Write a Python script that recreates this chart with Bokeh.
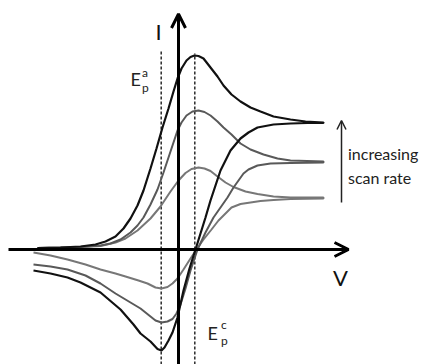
from bokeh.plotting import figure
from bokeh.models import Range1d, Arrow, OpenHead
from bokeh.core.properties import value
from bokeh.embed import file_html
from bokeh.resources import INLINE

# ---- data (potential E, current I, arbitrary units; origin at axes crossing) ----
# fastest scan rate (black)
E_fast = [-141, -118, -98, -83, -73, -63, -55, -48, -41, -35, -28, -22, -16, -10, -5, -1, 3, 8, 12, 16, 20, 25, 32, 39, 45, 53, 62, 72, 82, 95, 112, 127, 145,
          145, 129, 112, 95, 79, 70, 62, 52, 42, 32, 27, 22, 17, 11, 5, -1, -6, -10, -14, -17, -21, -28, -38, -45, -58, -78, -98, -111, -128, -145]
I_fast = [1.5, 2, 3, 5, 8, 13, 21, 31, 44, 59, 81, 101, 122, 141, 158, 171, 181, 189, 192.5, 194, 193.5, 191, 182, 173, 164, 155, 148, 142, 138, 133, 130, 128, 127,
          126.5, 126.5, 126, 125, 122, 117, 111, 99, 79, 49, 32, 16, 0, -19, -41, -68, -83, -91, -98, -101, -99.5, -92, -84, -75, -60, -43, -33, -28, -24, -21]

# medium scan rate (dark grey)
E_mid = [-141, -118, -98, -78, -68, -58, -48, -41, -35, -28, -21, -15, -8, -1, 3, 8, 14, 20, 26, 32, 39, 45, 53, 62, 72, 85, 99, 112, 145,
         145, 112, 92, 79, 70, 65, 60, 55, 49, 42, 35, 27, 19, 12, 7, 2, -2, -6, -11, -17, -23, -28, -38, -48, -63, -78, -93, -111, -128, -145]
I_mid = [1.5, 2, 2.5, 4, 6, 10, 17, 24, 32, 45, 60, 77, 98, 119, 127, 134, 138, 139, 137.5, 134, 128, 122, 115, 106, 100, 95, 91, 89, 88,
         87, 86.5, 86, 84, 80, 76, 69, 62, 52, 42, 32, 17, 0, -21, -39, -55, -64, -69.5, -72, -73, -71, -67, -59, -53, -44, -34, -26, -20, -17, -15]

# slowest scan rate (light grey)
E_slow = [-141, -108, -78, -63, -53, -41, -28, -18, -8, 0, 7, 13, 20, 26, 32, 39, 47, 55, 67, 79, 95, 112, 145,
          145, 112, 95, 82, 72, 62, 53, 46, 40, 33, 25, 18, 12, 5, -1, -6, -11, -17, -23, -31, -40, -53, -63, -78, -93, -111, -128, -145]
I_slow = [1.5, 2, 3.5, 7, 11, 19, 31, 43, 58, 69, 76.5, 80.5, 82, 81, 78.5, 73, 67, 62.5, 58, 55.5, 53, 52, 52,
          51, 50.5, 49.5, 48.5, 47, 45.5, 42, 35, 29, 20, 10, 0, -9, -20, -29, -34, -37.5, -39, -38, -34, -31, -27, -24, -20, -15, -10, -6, -3]

# peak potentials (dashed guides)
Ep_anodic = -17.3
Ep_cathodic = 16.3

# axis extents
E_axis = [-170, 170]
I_axis = [-125, 235.5]

FONT = value("Lato")

p = figure(width=422, height=364, output_backend="svg", toolbar_location=None,
           x_range=Range1d(-178, 244), y_range=Range1d(-115, 249),
           min_border=0, outline_line_color=None)
p.axis.visible = False
p.grid.visible = False
p.background_fill_color = "white"
p.border_fill_color = "white"

# dashed peak-potential lines
p.line([Ep_anodic, Ep_anodic], [-125, 199], line_color="#2a2a2a", line_width=1.5, line_dash="3 2")
p.line([Ep_cathodic, Ep_cathodic], [-125, 196], line_color="#2a2a2a", line_width=1.5, line_dash="3 2")

# axes with open arrow heads
p.add_layout(Arrow(end=OpenHead(size=14, line_width=3, line_color="black"),
                   x_start=E_axis[0], y_start=0, x_end=E_axis[1], y_end=0,
                   line_width=3, line_color="black"))
p.add_layout(Arrow(end=OpenHead(size=14, line_width=3, line_color="black"),
                   x_start=0, y_start=I_axis[0], x_end=0, y_end=I_axis[1],
                   line_width=3, line_color="black"))

# voltammograms
p.line(E_slow, I_slow, line_color="#777777", line_width=2)
p.line(E_mid, I_mid, line_color="#595959", line_width=2)
p.line(E_fast, I_fast, line_color="#111111", line_width=2.2)

# "increasing scan rate" arrow
p.add_layout(Arrow(end=OpenHead(size=9, line_width=1.5, line_color="#222222"),
                   x_start=163, y_start=47, x_end=163, y_end=129,
                   line_width=1.5, line_color="#222222"))

# labels
p.text(x=[-20], y=[218], text=["I"], text_font=FONT, text_font_size="22px",
       text_align="center", text_baseline="alphabetic", text_color="#111111")
p.text(x=[162], y=[-28], text=["V"], text_font=FONT, text_font_size="22px",
       text_align="center", text_baseline="alphabetic", text_color="#111111")

p.text(x=[-48], y=[171], text=["E"], text_font=FONT, text_font_size="18px",
       text_baseline="alphabetic", text_color="#222222")
p.text(x=[-36.5], y=[177], text=["a"], text_font=FONT, text_font_size="12px",
       text_baseline="alphabetic", text_color="#222222")
p.text(x=[-36.5], y=[162], text=["p"], text_font=FONT, text_font_size="12px",
       text_baseline="alphabetic", text_color="#222222")

p.text(x=[29], y=[-83], text=["E"], text_font=FONT, text_font_size="18px",
       text_baseline="alphabetic", text_color="#222222")
p.text(x=[42.5], y=[-75], text=["c"], text_font=FONT, text_font_size="12px",
       text_baseline="alphabetic", text_color="#222222")
p.text(x=[42.5], y=[-91], text=["p"], text_font=FONT, text_font_size="12px",
       text_baseline="alphabetic", text_color="#222222")

p.text(x=[169.5, 169.5], y=[96, 72], text=["increasing", "scan rate"], text_font=FONT,
       text_font_size="16px", text_baseline="alphabetic", text_color="#222222")

open("out.html", "w").write(file_html(p, INLINE))
